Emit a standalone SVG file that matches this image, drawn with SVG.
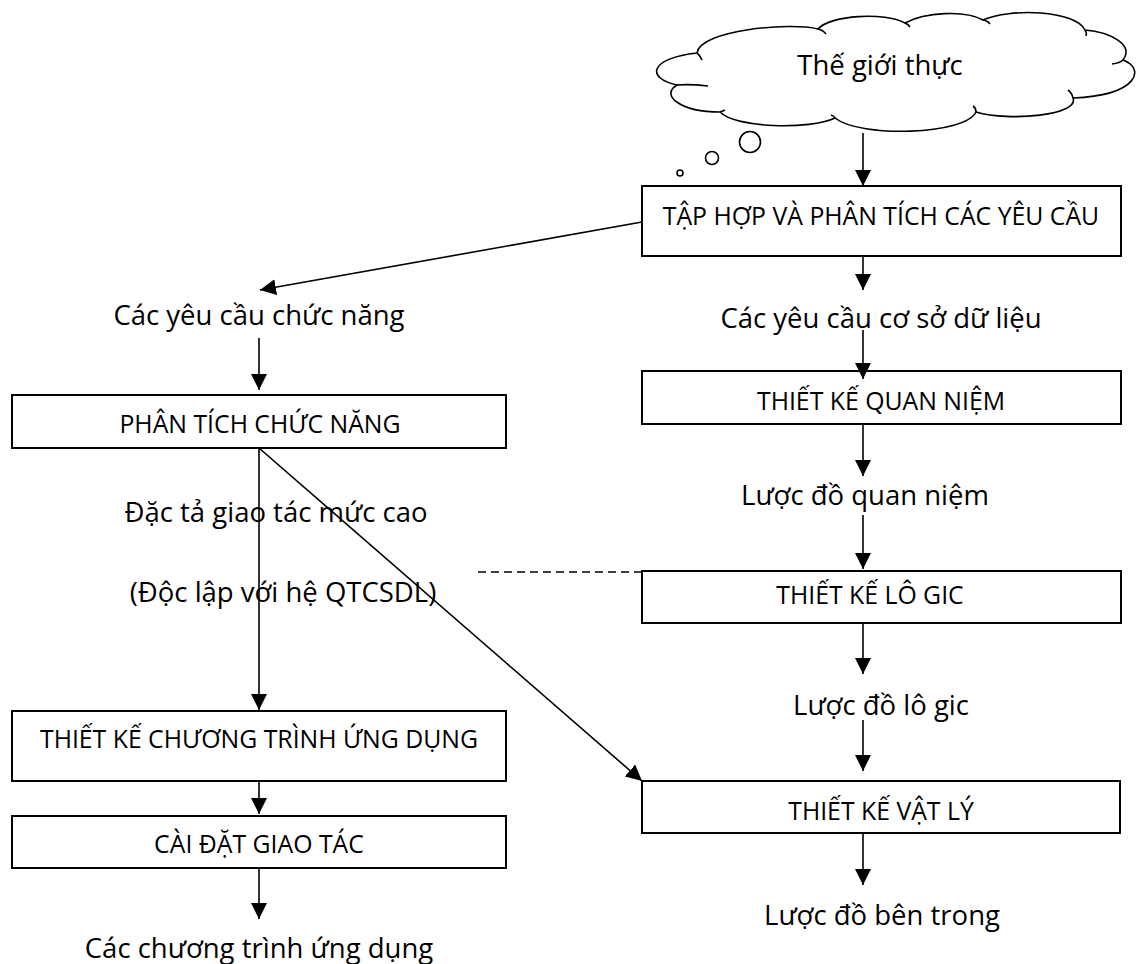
<svg xmlns="http://www.w3.org/2000/svg" width="1140" height="964" viewBox="0 0 1140 964">
<style>
.box{fill:#fff;stroke:#000;stroke-width:2}
.ln{fill:none;stroke:#000;stroke-width:1.6}
.t{font-family:"Open Sans","Noto Sans",sans-serif;font-size:27.5px;fill:#000;text-anchor:middle}
.bt{font-family:"Open Sans","Noto Sans",sans-serif;font-size:24.8px;fill:#000;text-anchor:middle}
</style>
<defs>
<marker id="ah" markerUnits="userSpaceOnUse" markerWidth="16" markerHeight="16" refX="16" refY="8" orient="auto">
<path d="M0,0 L16,8 L0,16 z" fill="#000"/>
</marker>
</defs>
<rect width="1140" height="964" fill="#fff"/>

<g id="cloud">
<path class="ln" d="M697,53 C700,30 790,22 818,29 C830,15 885,12 905,23 C925,12 965,10 983,20 C1010,8 1075,10 1085,30 C1110,32 1135,45 1123,60 C1145,68 1140,95 1073,98 C1080,115 1010,122 976,112 C965,135 860,138 835,118 C810,130 735,128 720,112 C680,112 660,95 677,85 C645,78 650,58 697,53 Z"/>
<path class="ln" d="M697,53 Q700,55 702,60 M818,29 Q823,30 826,34 M905,23 Q908,24 910,27 M983,20 Q988,21 990,24 M1085,30 Q1087,33 1086,36 M1123,60 Q1120,63 1112,64 M1073,98 Q1072,93 1068,90 M976,112 Q976,108 973,106 M835,118 Q834,116 831,115 M720,112 Q723,111 725,110 M677,85 Q690,84 708,86"/>
<circle class="ln" cx="750" cy="142" r="10.5"/>
<circle class="ln" cx="712" cy="158" r="6.5"/>
<circle class="ln" cx="680" cy="173" r="3"/>
<text class="t" x="880" y="75">Thế giới thực</text>
</g>

<g id="n-taphop">
<rect class="box" x="642" y="186" width="479" height="70"/>
<text class="bt" x="881" y="225">TẬP HỢP VÀ PHÂN TÍCH CÁC YÊU CẦU</text>
</g>
<g id="l-csdl"><text class="t" x="881" y="328">Các yêu cầu cơ sở dữ liệu</text></g>
<g id="n-quanniem">
<rect class="box" x="642" y="371" width="479" height="53"/>
<text class="bt" x="881" y="410">THIẾT KẾ QUAN NIỆM</text>
</g>
<g id="l-ldqn"><text class="t" x="865" y="505">Lược đồ quan niệm</text></g>
<g id="n-logic">
<rect class="box" x="642" y="571" width="479" height="52"/>
<text class="bt" x="870" y="604">THIẾT KẾ LÔ GIC</text>
</g>
<g id="l-ldlg"><text class="t" x="881" y="715">Lược đồ lô gic</text></g>
<g id="n-vatly">
<rect class="box" x="642" y="781" width="478" height="52"/>
<text class="bt" x="881" y="820">THIẾT KẾ VẬT LÝ</text>
</g>
<g id="l-ldbt"><text class="t" x="882" y="925">Lược đồ bên trong</text></g>

<g id="l-cn"><text class="t" x="259" y="325">Các yêu cầu chức năng</text></g>
<g id="n-ptcn">
<rect class="box" x="12" y="395" width="494" height="53"/>
<text class="bt" x="260" y="433">PHÂN TÍCH CHỨC NĂNG</text>
</g>
<g id="l-dt"><text class="t" x="276" y="522">Đặc tả giao tác mức cao</text></g>
<g id="l-dl"><text class="t" x="283" y="602">(Độc lập với hệ QTCSDL)</text></g>
<g id="n-tkct">
<rect class="box" x="12" y="711" width="494" height="70"/>
<text class="bt" x="259" y="748">THIẾT KẾ CHƯƠNG TRÌNH ỨNG DỤNG</text>
</g>
<g id="n-cdgt">
<rect class="box" x="12" y="816" width="494" height="52"/>
<text class="bt" x="259" y="853">CÀI ĐẶT GIAO TÁC</text>
</g>
<g id="l-ctud"><text class="t" x="259" y="958">Các chương trình ứng dụng</text></g>

<g id="connectors">
<line class="ln" x1="863" y1="133" x2="863" y2="186" marker-end="url(#ah)"/>
<line class="ln" x1="863" y1="256" x2="863" y2="290" marker-end="url(#ah)"/>
<line class="ln" x1="863" y1="330" x2="863" y2="379" marker-end="url(#ah)"/>
<line class="ln" x1="863" y1="424" x2="863" y2="476" marker-end="url(#ah)"/>
<line class="ln" x1="863" y1="515" x2="863" y2="569" marker-end="url(#ah)"/>
<line class="ln" x1="863" y1="623" x2="863" y2="674" marker-end="url(#ah)"/>
<line class="ln" x1="863" y1="720" x2="863" y2="771" marker-end="url(#ah)"/>
<line class="ln" x1="863" y1="833" x2="863" y2="885" marker-end="url(#ah)"/>
<line class="ln" x1="642" y1="222" x2="260" y2="290" marker-end="url(#ah)"/>
<line class="ln" x1="259" y1="338" x2="259" y2="390" marker-end="url(#ah)"/>
<line class="ln" x1="259" y1="448" x2="259" y2="710" marker-end="url(#ah)"/>
<line class="ln" x1="259" y1="448" x2="642" y2="781" marker-end="url(#ah)"/>
<line class="ln" x1="259" y1="781" x2="259" y2="814" marker-end="url(#ah)"/>
<line class="ln" x1="259" y1="868" x2="259" y2="919" marker-end="url(#ah)"/>
<line class="ln" x1="478" y1="572" x2="642" y2="572" stroke-dasharray="8,5"/>
</g>
</svg>
